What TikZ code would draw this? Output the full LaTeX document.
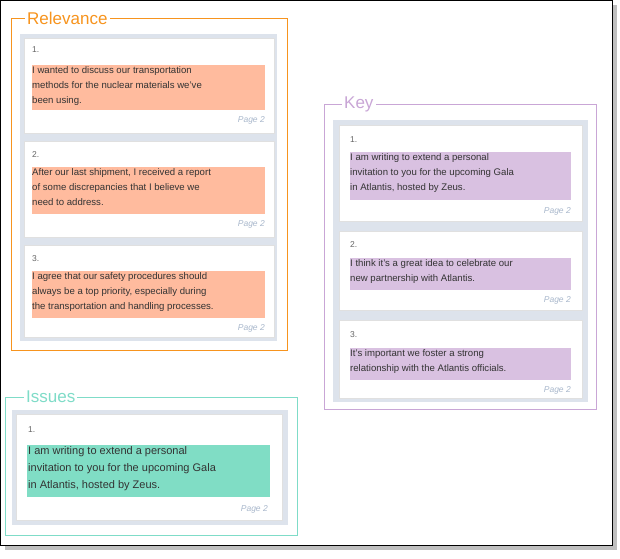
\documentclass[tikz,border=0pt]{standalone}
\usepackage{fontspec}
\setmainfont{Liberation Sans}
\begin{document}
\begin{tikzpicture}[x=1pt,y=-1pt,
  panel/.style={fill=panelc,draw=none},
  card/.style={fill=white,draw=black!12,line width=0.6pt},
  hl/.style={draw=none,inner sep=0pt},
  txt/.style={anchor=north west,inner sep=0pt,align=left,font=\fontsize{9.6}{15}\selectfont,text=black!80},
  num/.style={anchor=west,inner sep=0pt,font=\fontsize{8.5}{10}\selectfont,text=black!60},
  pg/.style={anchor=east,inner sep=0pt,font=\fontsize{8.5}{10}\selectfont\itshape,text=pagec},
  ttl/.style={anchor=west,fill=white,inner sep=2pt,font=\fontsize{17}{20}\selectfont}]
\definecolor{panelc}{HTML}{DDE3EC}
\definecolor{pagec}{HTML}{A9B8CC}
\definecolor{orng}{HTML}{F7941E}
\definecolor{salm}{HTML}{FFBB9E}
\definecolor{lavd}{HTML}{C9A6D6}
\definecolor{lavf}{HTML}{D9C1E1}
\definecolor{teal}{HTML}{7FDCC8}
\definecolor{tealf}{HTML}{80DDC5}
\useasboundingbox (0,0) rectangle (620,558);
\fill[black!25] (5,5) rectangle (617,550);
\draw[fill=white,line width=1pt] (0.5,0.5) rectangle (612,545);
% Relevance
\draw[orng,line width=0.7pt] (11,18) rectangle (287,350);
\node[ttl,text=orng] (trel) at (25,18) {Relevance};
\fill[panelc] (20,34) rectangle (277,341);
\foreach \a/\b in {38/133,141/237,245/337}{\draw[card] (24,\a) rectangle (274,\b);}
\fill[salm] (32,65) rectangle (265,110);
\fill[salm] (32,167) rectangle (265,214);
\fill[salm] (32,271) rectangle (265,318);
\node[num] (r1n) at (32,50) {1.};
\node[txt] (r1t) at (32,66) {I wanted to discuss our transportation\\methods for the nuclear materials we've\\been using.};
\node[pg] (r1p) at (265,120) {Page 2};
\node[num] (r2n) at (32,155) {2.};
\node[txt] (r2t) at (32,168) {After our last shipment, I received a report\\of some discrepancies that I believe we\\need to address.};
\node[pg] (r2p) at (265,224) {Page 2};
\node[num] (r3n) at (32,259) {3.};
\node[txt] (r3t) at (32,272) {I agree that our safety procedures should\\always be a top priority, especially during\\the transportation and handling processes.};
\node[pg] (r3p) at (265,328) {Page 2};
% Key
\draw[lavd,line width=0.7pt] (324,104) rectangle (596,409);
\node[ttl,text=lavd] (tkey) at (342,104) {Key};
\fill[panelc] (333,120) rectangle (588,402);
\foreach \a/\b in {125/221,231/310,320/398}{\draw[card] (339,\a) rectangle (582,\b);}
\fill[lavf] (350,152) rectangle (571,200);
\fill[lavf] (350,258) rectangle (571,290);
\fill[lavf] (350,348) rectangle (571,380);
\node[num] (k1n) at (350,140) {1.};
\node[txt] (k1t) at (350,153) {I am writing to extend a personal\\invitation to you for the upcoming Gala\\in Atlantis, hosted by Zeus.};
\node[pg] (k1p) at (571,211) {Page 2};
\node[num] (k2n) at (350,245) {2.};
\node[txt] (k2t) at (350,259) {I think it's a great idea to celebrate our\\new partnership with Atlantis.};
\node[pg] (k2p) at (571,300) {Page 2};
\node[num] (k3n) at (350,335) {3.};
\node[txt] (k3t) at (350,349) {It's important we foster a strong\\relationship with the Atlantis officials.};
\node[pg] (k3p) at (571,390) {Page 2};
% Issues
\draw[teal,line width=0.7pt] (5,397) rectangle (297,535);
\node[ttl,text=teal] (tiss) at (24,397) {Issues};
\fill[panelc] (12,410) rectangle (288,525);
\draw[card] (16,414) rectangle (282,520);
\fill[tealf] (27,445) rectangle (270,497);
\node[num] (i1n) at (28,430) {1.};
\node[txt,font=\fontsize{11}{17}\selectfont] (i1t) at (28,446) {I am writing to extend a personal\\invitation to you for the upcoming Gala\\in Atlantis, hosted by Zeus.};
\node[pg] (i1p) at (268,509) {Page 2};
\end{tikzpicture}
\end{document}
